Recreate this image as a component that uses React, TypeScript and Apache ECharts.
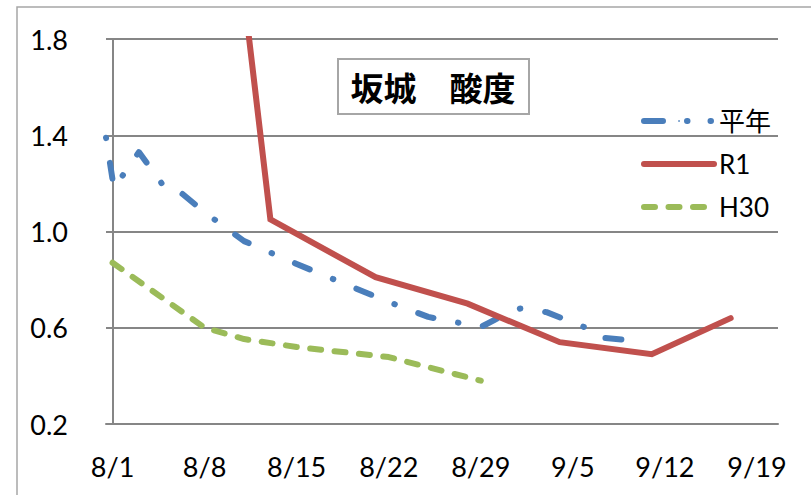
import React, { useEffect, useRef } from "react";
import * as echarts from "echarts";

// x values are days counted from 8/1 (day 0)
const xTickDays = [0, 7, 14, 21, 28, 35, 42, 49];
const xTickLabels = ["8/1", "8/8", "8/15", "8/22", "8/29", "9/5", "9/12", "9/19"];
const yTickLabels = ["0.2", "0.6", "1.0", "1.4", "1.8"];

const seriesNames = ["平年", "R1", "H30"];

const heinenDays = [-0.5, 0.1, 2, 4, 5, 7, 10, 14, 21, 24, 28, 30, 31, 33, 36, 37, 39];
const heinenValues = [1.39, 1.18, 1.33, 1.18, 1.17, 1.08, 0.96, 0.865, 0.707, 0.645, 0.603, 0.66, 0.68, 0.665, 0.6, 0.56, 0.55];

const r1Days = [5, 12, 20, 27, 34, 41, 47];
const r1Values = [4.3, 1.05, 0.81, 0.7, 0.54, 0.49, 0.64];

const h30Days = [0, 7, 10, 14, 21, 28];
const h30Values = [0.87, 0.6, 0.553, 0.52, 0.478, 0.38];

const pair = (d: number[], v: number[]) => d.map((x, i) => [x, v[i]]);

const FONT = "Lato, 'Noto Sans CJK JP', sans-serif";

export default function App() {
  const ref = useRef<HTMLDivElement>(null);
  useEffect(() => {
    if (!ref.current) return;
    const chart = echarts.init(ref.current, undefined, { renderer: "svg" });
    const labelMap: Record<string, string> = {};
    xTickDays.forEach((d, i) => (labelMap[String(d)] = xTickLabels[i]));
    const yMap: Record<string, string> = {};
    [0.2, 0.6, 1.0, 1.4, 1.8].forEach((v, i) => (yMap[v.toFixed(1)] = yTickLabels[i]));
    chart.setOption({
      animation: false,
      backgroundColor: "#ffffff",
      textStyle: { fontFamily: FONT },
      graphic: [
        {
          type: "rect",
          shape: { x: 17, y: 7, width: 1000, height: 1000 },
          style: { fill: "none", stroke: "#a6a6a6", lineWidth: 1.5 },
          silent: true,
          z: 0,
        },
        {
          type: "rect",
          shape: { x: 338, y: 59, width: 191, height: 55 },
          style: { fill: "#ffffff", stroke: "#a6a6a6", lineWidth: 2 },
          z: 10,
        },
        {
          type: "text",
          x: 433,
          y: 87,
          style: {
            text: "坂城　酸度",
            font: "bold 33px 'Noto Sans CJK JP'",
            fill: "#000000",
            align: "center",
            verticalAlign: "middle",
          },
          z: 11,
        },
      ],
      grid: { left: 106, right: 33, top: 39, bottom: 71 },
      legend: {
        orient: "vertical",
        left: 636,
        top: 103,
        itemWidth: 70,
        itemHeight: 2,
        itemGap: 17,
        data: [
          { name: seriesNames[0], lineStyle: { dashOffset: 0, type: [19, 24, 0.5, 23, 0.5, 50] } },
          { name: seriesNames[1] },
          { name: seriesNames[2] },
        ],
        textStyle: { fontSize: 26, color: "#000000", fontFamily: FONT },
        lineStyle: { width: 6, cap: "round" },
      },
      xAxis: {
        type: "value",
        min: -0.5,
        max: 50.6,
        axisLine: { show: true, lineStyle: { color: "#868686", width: 2 } },
        axisTick: { show: false },
        splitLine: { show: false },
        axisLabel: {
          customValues: xTickDays,
          formatter: (v: number) => labelMap[String(Math.round(v))] ?? "",
          fontSize: 27,
          color: "#000000",
          margin: 29,
          fontFamily: FONT,
        },
      },
      yAxis: {
        type: "value",
        min: 0.2,
        max: 1.8,
        interval: 0.4,
        axisLine: { show: true, lineStyle: { color: "#868686", width: 2 } },
        axisTick: { show: false },
        splitLine: { show: true, lineStyle: { color: "#868686", width: 2 } },
        axisLabel: {
          formatter: (v: number) => yMap[v.toFixed(1)] ?? v.toFixed(1),
          fontSize: 27,
          color: "#000000",
          margin: 38,
          fontFamily: FONT,
        },
      },
      series: [
        {
          name: seriesNames[0],
          type: "line",
          data: pair(heinenDays, heinenValues),
          symbol: "none",
          showSymbol: false,
          clip: true,
          lineStyle: {
            color: "#4A7EBB",
            width: 6,
            type: [16, 25, 0.5, 25],
            dashOffset: 41,
            cap: "round",
            join: "round",
          },
          itemStyle: { color: "#4A7EBB" },
          z: 3,
        },
        {
          name: seriesNames[1],
          type: "line",
          data: pair(r1Days, r1Values),
          symbol: "none",
          showSymbol: false,
          clip: true,
          lineStyle: { color: "#C0504D", width: 6, type: "solid", cap: "round", join: "miter" },
          itemStyle: { color: "#C0504D" },
          z: 4,
        },
        {
          name: seriesNames[2],
          type: "line",
          data: pair(h30Days, h30Values),
          symbol: "none",
          showSymbol: false,
          clip: true,
          lineStyle: { color: "#9BBB59", width: 6, type: [11, 13.5], cap: "round", join: "round" },
          itemStyle: { color: "#9BBB59" },
          z: 2,
        },
      ],
    });
    return () => chart.dispose();
  }, []);
  return <div ref={ref} style={{ width: 811, height: 495, position: "absolute", left: 0, top: 0 }} />;
}
